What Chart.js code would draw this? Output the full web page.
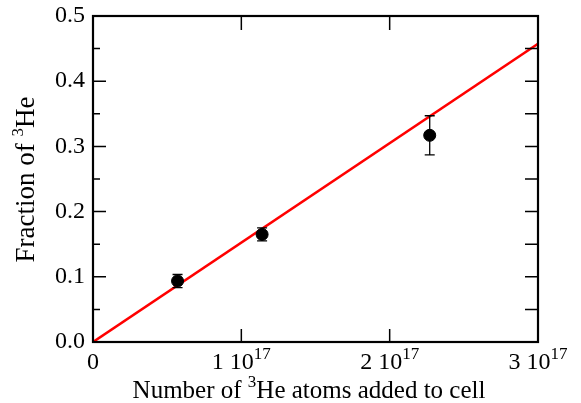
<!DOCTYPE html>
<html lang="en">
<head>
<meta charset="UTF-8">
<script src="https://cdn.jsdelivr.net/npm/chart.js"></script>
<title>Fraction of 3He</title>
<style>
  body { margin: 0; background: #fff; }
  #wrap { position: relative; width: 581px; height: 403px; }
</style>
</head>
<body>
<div id="wrap"><canvas id="myChart"></canvas></div>
<script>
// measured points (atoms added, fraction of 3He, error)
var atoms = [0.57e17, 1.14e17, 2.27e17];
var fraction = [0.0935, 0.165, 0.317];
var fracErr = [0.010, 0.010, 0.030];

// linear fit drawn across the axis
var fitX = [0, 3e17];
var fitY = [0, 0.4575];

var xTicks = [0, 1e17, 2e17, 3e17];
var xTickMain = ['0', '1 10', '2 10', '3 10'];
var xTickSup = ['', '17', '17', '17'];
var yTicks = [0, 0.1, 0.2, 0.3, 0.4, 0.5];
var yMinor = [0.05, 0.15, 0.25, 0.35, 0.45];

var serif = '"Liberation Serif", "Times New Roman", serif';
var tickFont = '24px ' + serif;
var supFont = '17px ' + serif;

// draws frame, inward ticks, labels, error bars
var framePlugin = {
    id: 'frame',
    afterDatasetsDraw: function (chart) {
        var ctx = chart.ctx;
        var x = chart.scales.x, y = chart.scales.y;
        ctx.save();

        // error bars
        ctx.strokeStyle = '#000';
        ctx.lineWidth = 1.3;
        for (var i = 0; i < atoms.length; i++) {
            var px = x.getPixelForValue(atoms[i]);
            var top = y.getPixelForValue(fraction[i] + fracErr[i]);
            var bot = y.getPixelForValue(fraction[i] - fracErr[i]);
            ctx.beginPath();
            ctx.moveTo(px, top); ctx.lineTo(px, bot);
            ctx.moveTo(px - 5, top); ctx.lineTo(px + 5, top);
            ctx.moveTo(px - 5, bot); ctx.lineTo(px + 5, bot);
            ctx.stroke();
        }
        ctx.restore();
    },
    afterDraw: function (chart) {
        var ctx = chart.ctx;
        var x = chart.scales.x, y = chart.scales.y;
        var a = chart.chartArea;
        ctx.save();
        ctx.strokeStyle = '#000';
        ctx.lineWidth = 2.2;
        ctx.strokeRect(a.left, a.top, a.right - a.left, a.bottom - a.top);

        ctx.lineWidth = 1.5;
        ctx.beginPath();
        // x ticks top and bottom (inner ones only)
        xTicks.forEach(function (v, i) {
            if (i === 0 || i === xTicks.length - 1) return;
            var px = x.getPixelForValue(v);
            ctx.moveTo(px, a.bottom); ctx.lineTo(px, a.bottom - 13);
            ctx.moveTo(px, a.top); ctx.lineTo(px, a.top + 14);
        });
        // y major ticks
        yTicks.forEach(function (v) {
            var py = y.getPixelForValue(v);
            ctx.moveTo(a.left, py); ctx.lineTo(a.left + 13, py);
            ctx.moveTo(a.right, py); ctx.lineTo(a.right - 13, py);
        });
        // y minor ticks
        yMinor.forEach(function (v) {
            var py = y.getPixelForValue(v);
            ctx.moveTo(a.left, py); ctx.lineTo(a.left + 7, py);
            ctx.moveTo(a.right, py); ctx.lineTo(a.right - 13, py);
        });
        ctx.stroke();

        ctx.fillStyle = '#000';
        // y tick labels
        ctx.font = tickFont;
        ctx.textAlign = 'right';
        ctx.textBaseline = 'middle';
        yTicks.forEach(function (v) {
            ctx.fillText(v.toFixed(1), a.left - 8, y.getPixelForValue(v));
        });

        // x tick labels with superscript exponent
        ctx.textBaseline = 'alphabetic';
        ctx.textAlign = 'left';
        xTicks.forEach(function (v, i) {
            ctx.font = tickFont;
            var w1 = ctx.measureText(xTickMain[i]).width;
            ctx.font = supFont;
            var w2 = xTickSup[i] ? ctx.measureText(xTickSup[i]).width : 0;
            var start = x.getPixelForValue(v) - (w1 + w2) / 2;
            ctx.font = tickFont;
            ctx.fillText(xTickMain[i], start, a.bottom + 27);
            ctx.font = supFont;
            if (xTickSup[i]) ctx.fillText(xTickSup[i], start + w1, a.bottom + 17);
        });

        // x axis title: Number of ³He atoms added to cell
        drawSupText(ctx, ['Number of ', '3', 'He atoms added to cell'], 309, 398, 25);

        // y axis title, rotated
        ctx.save();
        ctx.translate(34, 179.5);
        ctx.rotate(-Math.PI / 2);
        drawSupText(ctx, ['Fraction of ', '3', 'He'], 0, 0, 27);
        ctx.restore();

        ctx.restore();
    }
};

// text centred at cx with the middle piece raised as superscript
function drawSupText(ctx, parts, cx, base, size) {
    var main = size + 'px ' + serif;
    var sup = '17px ' + serif;
    ctx.textAlign = 'left';
    ctx.textBaseline = 'alphabetic';
    ctx.font = main;
    var w0 = ctx.measureText(parts[0]).width;
    var w2 = ctx.measureText(parts[2]).width;
    ctx.font = sup;
    var w1 = ctx.measureText(parts[1]).width;
    var start = cx - (w0 + w1 + w2) / 2;
    ctx.font = main;
    ctx.fillText(parts[0], start, base);
    ctx.fillText(parts[2], start + w0 + w1, base);
    ctx.font = sup;
    ctx.fillText(parts[1], start + w0, base - 11);
}

var data = {
    datasets: [
        {
            type: 'line',
            label: 'fit',
            data: fitX.map(function (v, i) { return { x: v, y: fitY[i] }; }),
            borderColor: 'rgb(255, 0, 0)',
            borderWidth: 2.6,
            pointRadius: 0,
            fill: false,
            order: 2
        },
        {
            type: 'scatter',
            label: 'measured',
            data: atoms.map(function (v, i) { return { x: v, y: fraction[i] }; }),
            backgroundColor: '#000',
            borderColor: '#000',
            pointRadius: 6,
            order: 1
        }
    ]
};

var config = {
    type: 'scatter',
    data: data,
    options: {
        responsive: false,
        animation: false,
        layout: { padding: { left: 93, right: 43, top: 16, bottom: 61 } },
        plugins: { legend: { display: false }, tooltip: { enabled: false } },
        scales: {
            x: { type: 'linear', min: 0, max: 3e17, display: false },
            y: { type: 'linear', min: 0, max: 0.5, display: false }
        }
    },
    plugins: [framePlugin]
};

var cv = document.getElementById('myChart');
cv.width = 581;
cv.height = 403;
var myChart = new Chart(cv, config);
</script>
</body>
</html>
